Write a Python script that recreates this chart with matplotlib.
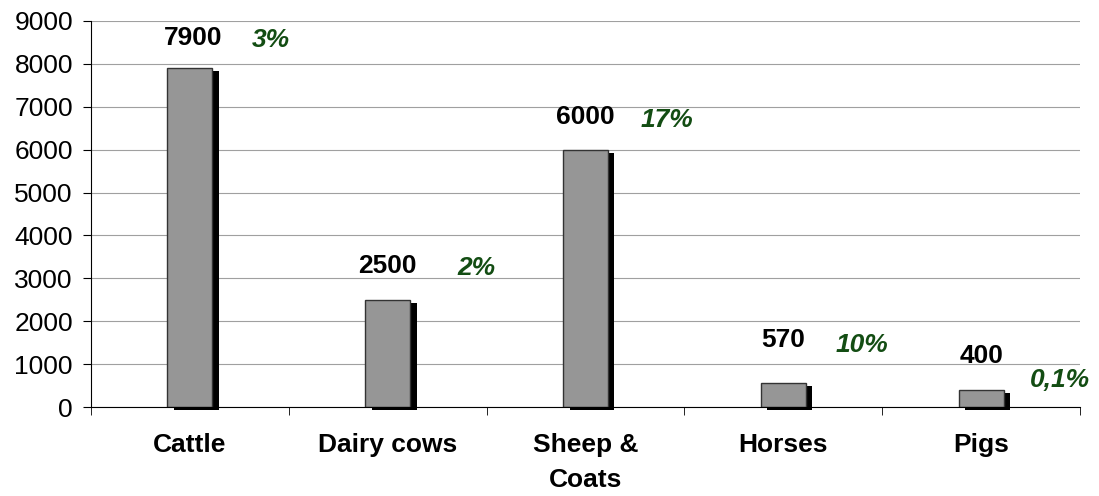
import matplotlib.pyplot as plt
import numpy as np

plt.rcParams['font.family'] = ['Liberation Sans', 'DejaVu Sans']

categories = ['Cattle', 'Dairy cows', 'Sheep &\nCoats', 'Horses', 'Pigs']
values = [7900, 2500, 6000, 570, 400]
shares = ['3%', '2%', '17%', '10%', '0,1%']
# label positions (data units)
value_label_y = [8600, 3290, 6760, 1560, 1190]
value_label_dx = [0.015, 0.0, 0.0, 0.0, 0.0]
share_label_y = [8550, 3240, 6690, 1445, 630]
share_label_dx = [0.41, 0.45, 0.41, 0.40, 0.40]

fig = plt.figure(figsize=(10.99, 4.96), dpi=100)
ax = fig.add_axes([0.0828, 0.1794, 0.8999, 0.7783])

x = np.arange(len(categories))
w = 0.227
# shadow behind bars
ax.bar(x + 0.033, values, width=w, bottom=-70, color='black', clip_on=False, zorder=2)
ax.bar(x, values, width=w, color='#969696', edgecolor='#333333', linewidth=1, zorder=3)

for i, v in enumerate(values):
    ax.text(x[i] + value_label_dx[i], value_label_y[i], str(v), ha='center', va='center',
            fontsize=19, fontweight='bold', color='black')
    ax.text(x[i] + share_label_dx[i], share_label_y[i], shares[i], ha='center', va='center',
            fontsize=19, fontweight='bold', style='italic', color='#134d13', clip_on=False)

ax.set_xlim(-0.5, len(categories) - 0.5)
ax.set_ylim(0, 9000)
ax.set_yticks(range(0, 9001, 1000))
ax.set_xticks(x)
ax.set_xticklabels(categories, fontsize=19, fontweight='bold', va='top', linespacing=1.55)
ax.set_xticks(np.arange(-0.5, len(categories), 1), minor=True)
ax.tick_params(axis='x', which='major', length=0, pad=19)
ax.tick_params(axis='x', which='minor', length=6, direction='out', color='black')
ax.tick_params(axis='y', labelsize=19, length=6, direction='out', pad=7)

ax.yaxis.grid(True, color='#a0a0a0', linewidth=0.8)
ax.set_axisbelow(True)
for s in ['top', 'right']:
    ax.spines[s].set_visible(False)
ax.spines['left'].set_color('black')
ax.spines['bottom'].set_color('black')
ax.spines['bottom'].set_zorder(4)

fig.savefig('out.png', dpi=100)
